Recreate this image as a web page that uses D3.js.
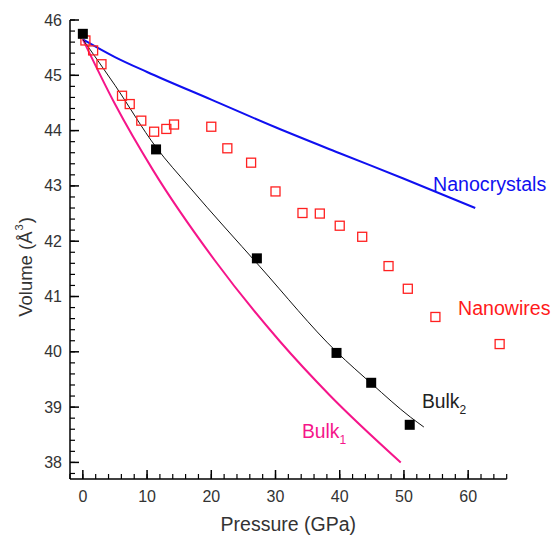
<!DOCTYPE html>
<html>
<head>
<meta charset="utf-8">
<script src="https://cdn.jsdelivr.net/npm/d3@7"></script>
<style>
  body { margin: 0; background: #fff; }
  text { font-family: "Liberation Sans", Arial, sans-serif; }
</style>
</head>
<body>
<svg id="chart" width="553" height="535"></svg>
<script>
// nanowires (open red squares)
var wireP = [0.4, 1.6, 2.9, 6.1, 7.3, 9.1, 11.1, 13.0, 14.2, 20.0, 22.5, 26.2, 30.0, 34.2, 36.9, 40.0, 43.5, 47.6, 50.6, 54.9, 64.9];
var wireV = [45.63, 45.45, 45.20, 44.63, 44.48, 44.18, 43.98, 44.03, 44.11, 44.07, 43.68, 43.42, 42.90, 42.51, 42.50, 42.28, 42.08, 41.55, 41.14, 40.63, 40.14];

// bulk measured points (filled black squares)
var bulkP = [0, 11.4, 27.1, 39.5, 44.9, 50.9];
var bulkV = [45.75, 43.66, 41.69, 39.98, 39.44, 38.68];

// fitted curves
var nanoP = [0, 5, 10, 20, 30, 40, 50, 61.1];
var nanoV = [45.65, 45.33, 45.06, 44.56, 44.06, 43.59, 43.13, 42.60];

var bulk1P = [0, 5, 10.9, 20.5, 30.6, 38.4, 49.5];
var bulk1V = [45.65, 44.48, 43.29, 41.66, 40.20, 39.22, 38.0];

var bulk2P = [0, 5, 11.4, 16.6, 27.5, 39.5, 45, 51, 53.1];
var bulk2V = [45.65, 44.82, 43.70, 42.98, 41.55, 40.0, 39.42, 38.82, 38.64];

var xTicks = [0, 10, 20, 30, 40, 50, 60];
var yTicks = [38, 39, 40, 41, 42, 43, 44, 45, 46];

var svg = d3.select("#chart");
var m = { left: 70, right: 506.7, top: 20, bottom: 479 };

var x = d3.scaleLinear().domain([-2, 66]).range([m.left, m.right]);
var y = d3.scaleLinear().domain([37.7, 46]).range([m.bottom, m.top]);

function zip(a, b) {
    return a.map(function(d, i) { return [d, b[i]]; });
}

// axes: ticks pointing inward
var xMinor = d3.range(-2, 66.01, 2);
var yMinor = d3.range(37.8, 46.01, 0.2);

var gx = svg.append("g").attr("transform", "translate(0," + m.bottom + ")");
gx.append("line").attr("x1", m.left).attr("x2", m.right).attr("stroke", "#000").attr("stroke-width", 1.5);
gx.selectAll(".mn").data(xMinor).enter().append("line")
    .attr("x1", x).attr("x2", x).attr("y1", 0).attr("y2", -5)
    .attr("stroke", "#000").attr("stroke-width", 1.2);
gx.selectAll(".mj").data(xTicks).enter().append("line")
    .attr("x1", x).attr("x2", x).attr("y1", 0).attr("y2", -9)
    .attr("stroke", "#000").attr("stroke-width", 1.5);
gx.selectAll(".lb").data(xTicks).enter().append("text")
    .attr("x", x).attr("y", 22.5).attr("text-anchor", "middle")
    .attr("font-size", 16).attr("fill", "#333").text(function(d) { return d; });

var gy = svg.append("g").attr("transform", "translate(" + m.left + ",0)");
gy.append("line").attr("y1", m.top).attr("y2", m.bottom).attr("stroke", "#000").attr("stroke-width", 1.5);
gy.selectAll(".mn").data(yMinor).enter().append("line")
    .attr("y1", y).attr("y2", y).attr("x1", 0).attr("x2", 5)
    .attr("stroke", "#000").attr("stroke-width", 1.2);
gy.selectAll(".mj").data(yTicks).enter().append("line")
    .attr("y1", y).attr("y2", y).attr("x1", 0).attr("x2", 9)
    .attr("stroke", "#000").attr("stroke-width", 1.5);
gy.selectAll(".lb").data(yTicks).enter().append("text")
    .attr("x", -8).attr("y", function(d) { return y(d) + 5.5; }).attr("text-anchor", "end")
    .attr("font-size", 16).attr("fill", "#333").text(function(d) { return d; });

// axis titles
svg.append("text").attr("x", (m.left + m.right) / 2).attr("y", 531).attr("text-anchor", "middle")
    .attr("font-size", 19.5).attr("fill", "#333").text("Pressure (GPa)");

var yt = svg.append("text").attr("transform", "translate(32,267) rotate(-90)")
    .attr("text-anchor", "middle").attr("font-size", 18.5).attr("fill", "#333");
yt.append("tspan").text("Volume (Å");
yt.append("tspan").attr("dy", -9).attr("dx", 1).attr("font-size", 11).text("3");
yt.append("tspan").attr("dy", 9).attr("dx", 1).text(")");

// curves
var line = d3.line().x(function(d) { return x(d[0]); }).y(function(d) { return y(d[1]); })
    .curve(d3.curveMonotoneX);

svg.append("path").datum(zip(nanoP, nanoV)).attr("d", line)
    .attr("fill", "none").attr("stroke", "#1010f0").attr("stroke-width", 2);
svg.append("path").datum(zip(bulk1P, bulk1V)).attr("d", line)
    .attr("fill", "none").attr("stroke", "#f5158a").attr("stroke-width", 2);
svg.append("path").datum(zip(bulk2P, bulk2V)).attr("d", line)
    .attr("fill", "none").attr("stroke", "#111").attr("stroke-width", 1);

// points
svg.selectAll(".wire").data(zip(wireP, wireV)).enter().append("rect")
    .attr("x", function(d) { return x(d[0]) - 4.5; })
    .attr("y", function(d) { return y(d[1]) - 4.5; })
    .attr("width", 9).attr("height", 9)
    .attr("fill", "none").attr("stroke", "#ff2020").attr("stroke-width", 1.3);

svg.selectAll(".bulk").data(zip(bulkP, bulkV)).enter().append("rect")
    .attr("x", function(d) { return x(d[0]) - 5; })
    .attr("y", function(d) { return y(d[1]) - 5; })
    .attr("width", 10).attr("height", 10)
    .attr("fill", "#000");

// labels
svg.append("text").attr("x", 433).attr("y", 191).attr("font-size", 19.6)
    .attr("fill", "#1010f0").text("Nanocrystals");
svg.append("text").attr("x", 458).attr("y", 315).attr("font-size", 19.6)
    .attr("fill", "#ff1a1a").text("Nanowires");

var b2 = svg.append("text").attr("x", 422).attr("y", 408).attr("font-size", 19.3).attr("fill", "#222");
b2.append("tspan").text("Bulk");
b2.append("tspan").attr("dy", 6).attr("font-size", 12).text("2");

var b1 = svg.append("text").attr("x", 302).attr("y", 438).attr("font-size", 19.3).attr("fill", "#f5158a");
b1.append("tspan").text("Bulk");
b1.append("tspan").attr("dy", 6).attr("font-size", 12).text("1");
</script>
</body>
</html>
